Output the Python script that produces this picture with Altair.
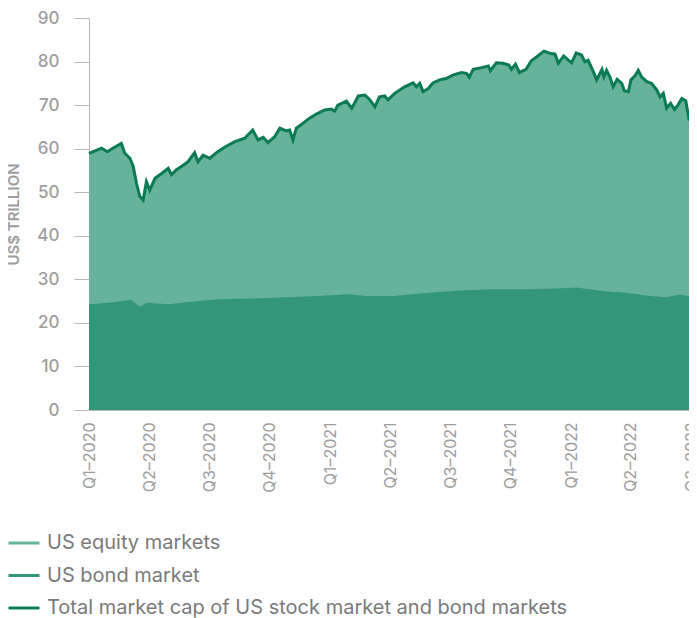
import altair as alt
import pandas as pd

# ---- data (US$ trillion) ----
total_dates = [
    "2020-01-01", "2020-01-20", "2020-01-29", "2020-02-06", "2020-02-19", "2020-02-24",
    "2020-03-03", "2020-03-08", "2020-03-13", "2020-03-18", "2020-03-23", "2020-03-28",
    "2020-04-02", "2020-04-10", "2020-04-20", "2020-04-30", "2020-05-05", "2020-05-12",
    "2020-05-20", "2020-05-30", "2020-06-09", "2020-06-14", "2020-06-22", "2020-07-02",
    "2020-07-14", "2020-07-25", "2020-08-09", "2020-08-24", "2020-09-05", "2020-09-13",
    "2020-09-21", "2020-09-28", "2020-10-08", "2020-10-16", "2020-10-26", "2020-10-31",
    "2020-11-05", "2020-11-10", "2020-11-20", "2020-11-30", "2020-12-11", "2020-12-23",
    "2021-01-02", "2021-01-07", "2021-01-12", "2021-01-25", "2021-02-02", "2021-02-12",
    "2021-02-22", "2021-03-01", "2021-03-09", "2021-03-16", "2021-03-24", "2021-03-29",
    "2021-04-08", "2021-04-23", "2021-05-06", "2021-05-11", "2021-05-16", "2021-05-21",
    "2021-05-29", "2021-06-05", "2021-06-15", "2021-06-25", "2021-07-05", "2021-07-18",
    "2021-07-26", "2021-07-30", "2021-08-05", "2021-08-18", "2021-08-28", "2021-08-31",
    "2021-09-09", "2021-09-19", "2021-09-28", "2021-10-02", "2021-10-08", "2021-10-14",
    "2021-10-24", "2021-11-01", "2021-11-11", "2021-11-20", "2021-11-29", "2021-12-07",
    "2021-12-12", "2021-12-20", "2022-01-01", "2022-01-08", "2022-01-16", "2022-01-21",
    "2022-01-26", "2022-02-03", "2022-02-08", "2022-02-16", "2022-02-19", "2022-02-23",
    "2022-02-28", "2022-03-05", "2022-03-11", "2022-03-18", "2022-03-22", "2022-03-28",
    "2022-04-01", "2022-04-07", "2022-04-12", "2022-04-17", "2022-04-25", "2022-05-02",
    "2022-05-10", "2022-05-15", "2022-05-20", "2022-05-25", "2022-05-31", "2022-06-06",
    "2022-06-11", "2022-06-17", "2022-06-23", "2022-06-28", "2022-07-04", "2022-07-10",
]
total_values = [
    58.9, 60.1, 59.3, 60.1, 61.2, 59.0,
    57.8, 55.9, 52.0, 49.0, 48.2, 52.4,
    50.5, 53.2, 54.3, 55.5, 54.0, 55.1,
    55.9, 57.0, 59.1, 57.0, 58.5, 57.8,
    59.3, 60.4, 61.6, 62.4, 64.3, 62.0,
    62.6, 61.4, 62.7, 64.7, 64.1, 64.3,
    62.0, 64.7, 65.8, 67.0, 68.0, 68.9,
    69.1, 68.6, 70.0, 70.9, 69.3, 72.1,
    72.3, 71.3, 69.6, 71.9, 72.1, 71.2,
    72.7, 74.2, 75.1, 74.2, 75.0, 73.1,
    73.8, 75.1, 75.8, 76.1, 76.9, 77.5,
    77.3, 76.4, 78.2, 78.6, 79.0, 77.9,
    79.7, 79.6, 79.2, 78.2, 79.4, 77.5,
    78.2, 80.2, 81.3, 82.4, 81.9, 81.7,
    79.6, 81.3, 79.7, 82.0, 81.5, 80.0,
    80.3, 77.7, 75.8, 78.2, 76.5, 78.0,
    76.5, 74.2, 75.9, 75.0, 73.3, 73.1,
    75.8, 76.7, 78.0, 76.5, 75.4, 75.0,
    73.5, 71.9, 72.7, 69.3, 70.4, 69.0,
    70.0, 71.5, 71.0, 66.7, 66.0, 68.3,
]

bond_dates = [
    "2020-01-01", "2020-02-04", "2020-03-05", "2020-03-18", "2020-03-28", "2020-04-30",
    "2020-05-25", "2020-07-14", "2020-09-03", "2020-10-23", "2020-12-13", "2021-01-27",
    "2021-02-26", "2021-04-05", "2021-05-21", "2021-07-10", "2021-08-30", "2021-10-20",
    "2021-12-09", "2022-01-08", "2022-02-23", "2022-03-21", "2022-04-30", "2022-05-25",
    "2022-06-14", "2022-07-04", "2022-07-10",
]
bond_values = [
    24.3, 24.7, 25.3, 23.7, 24.6, 24.3,
    24.7, 25.4, 25.6, 25.9, 26.2, 26.6,
    26.2, 26.2, 26.8, 27.4, 27.7, 27.7,
    27.9, 28.1, 27.2, 27.0, 26.2, 25.9,
    26.6, 25.9, 26.0,
]

series_names = [
    "US equity markets",
    "US bond market",
    "Total market cap of US stock market and bond markets",
]
series_colors = ["#66b29a", "#33967a", "#0b7b53"]

quarter_ticks = [
    alt.DateTime(year=y, month=m, date=1, utc=True)
    for y, m in [(2020, 1), (2020, 4), (2020, 7), (2020, 10),
                 (2021, 1), (2021, 4), (2021, 7), (2021, 10),
                 (2022, 1), (2022, 4), (2022, 7)]
]

total_df = pd.DataFrame({"date": total_dates, "value": total_values,
                         "series": series_names[2]})
bond_df = pd.DataFrame({"date": bond_dates, "value": bond_values,
                        "series": series_names[1]})
legend_df = pd.DataFrame({"series": series_names})

FONT = "Inter"
GRAY = "#9d9d9d"

x_enc = alt.X(
    "date:T",
    title=None,
    scale=alt.Scale(
        type="utc",
        domain=[alt.DateTime(year=2020, month=1, date=1, utc=True),
                alt.DateTime(year=2022, month=7, date=10, utc=True)],
        # the reference's plot runs past the right edge of the picture
        range=[0, 608],
    ),
    axis=alt.Axis(
        values=quarter_ticks,
        labelExpr="'Q' + utcFormat(datum.value, '%q') + '\u2013' + utcFormat(datum.value, '%Y')",
        labelAngle=-90,
        labelFontSize=16,
        labelColor=GRAY,
        labelFont=FONT,
        labelPadding=12,
        ticks=False,
        domainColor="#b8b8b8",
        grid=False,
        labelOverlap=False,
        labelFlush=False,
    ),
)

y_enc = alt.Y(
    "value:Q",
    scale=alt.Scale(domain=[0, 90], nice=False),
    axis=alt.Axis(
        values=list(range(0, 100, 10)),
        title="US$ TRILLION",
        titleFont=FONT,
        titleFontSize=15,
        titleFontWeight=600,
        titleColor=GRAY,
        titlePadding=15,
        labelFont=FONT,
        labelFontSize=17,
        labelFontWeight=500,
        labelColor=GRAY,
        labelPadding=15,
        tickSize=15,
        tickColor="#b8b8b8",
        domainColor="#b8b8b8",
        grid=False,
    ),
)

color_enc = alt.Color(
    "series:N",
    scale=alt.Scale(domain=series_names, range=series_colors),
    legend=alt.Legend(
        title=None,
        orient="none",
        legendX=-82,
        legendY=508,
        direction="vertical",
        symbolType="stroke",
        symbolSize=960,
        symbolStrokeWidth=3,
        labelFont=FONT,
        labelFontSize=20,
        labelColor="#7a7a7a",
        labelOffset=6,
        labelLimit=700,
        rowPadding=5.5,
        padding=0,
    ),
)

equity_area = alt.Chart(total_df).mark_area(color=series_colors[0], interpolate="linear").encode(
    x=x_enc, y=y_enc
)
bond_area = alt.Chart(bond_df).mark_area(color=series_colors[1], interpolate="linear").encode(
    x="date:T", y="value:Q"
)
total_line = alt.Chart(total_df).mark_line(strokeWidth=3, interpolate="linear").encode(
    x="date:T",
    y="value:Q",
    color=color_enc,
)
# invisible layer so that every series name appears in the legend
legend_layer = alt.Chart(legend_df).mark_line(opacity=0).encode(
    x=alt.value(0),
    y=alt.value(0),
    color=color_enc,
)

chart = alt.layer(equity_area, bond_area, total_line, legend_layer).properties(
    width=600,
    height=392,
    autosize=alt.AutoSizeParams(type="none"),
    padding={"left": 81, "top": 10, "right": 0, "bottom": 208},
).configure_view(strokeWidth=0)

chart.save("out.html", embed_options={"renderer": "svg", "actions": False})
